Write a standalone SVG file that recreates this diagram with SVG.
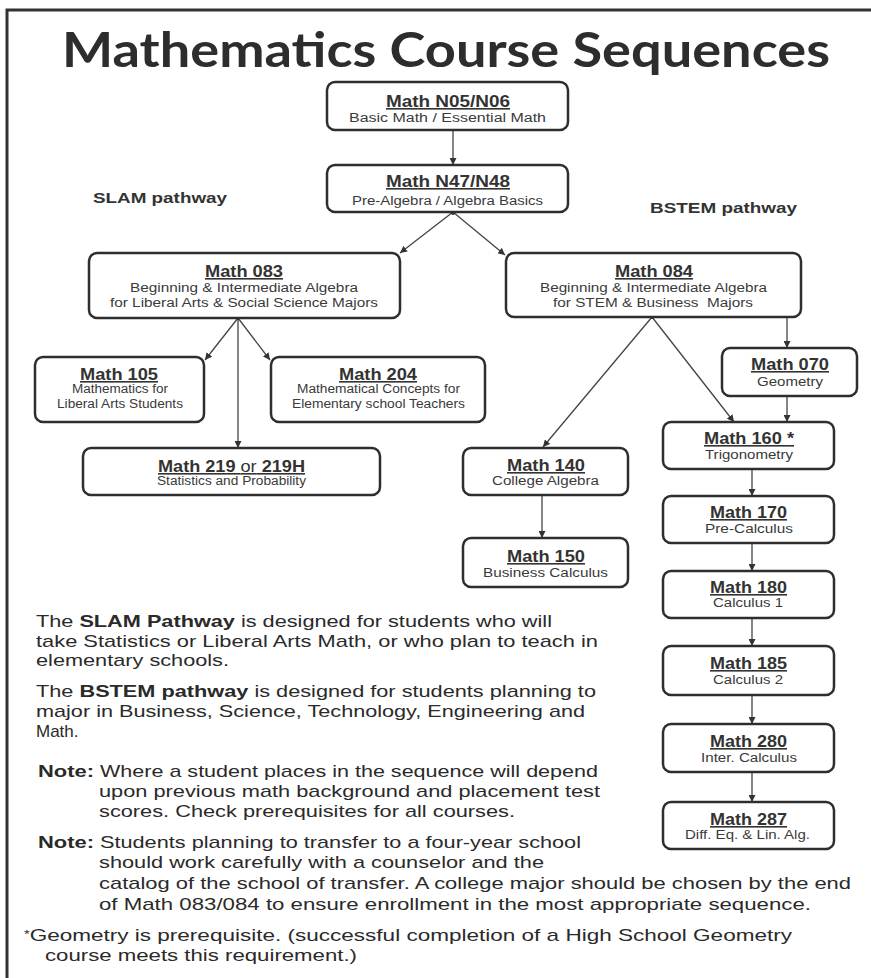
<svg xmlns="http://www.w3.org/2000/svg" width="871" height="978" viewBox="0 0 871 978">
<style>
.box{fill:#fff;stroke:#2e2e2e;stroke-width:2.5}
.t{font-family:"Liberation Sans",Arial,sans-serif;font-weight:700;font-size:16px;fill:#333;text-anchor:middle;text-decoration:underline}
.s{font-family:"Liberation Sans",Arial,sans-serif;font-size:12.5px;fill:#3a3a3a;text-anchor:middle}
.p{font-family:"Liberation Sans",Arial,sans-serif;font-size:17px;fill:#2a2a2a}
.lbl{font-family:"Liberation Sans",Arial,sans-serif;font-weight:700;font-size:15.5px;fill:#333}
.c{stroke:#444;stroke-width:1.3;fill:none}
</style>
<defs>
<marker id="ah" viewBox="0 0 10 10" refX="10" refY="5" markerWidth="7" markerHeight="7" markerUnits="userSpaceOnUse" orient="auto">
<path d="M0,0 L10,5 L0,10 z" fill="#333"/>
</marker>
</defs>
<rect width="871" height="978" fill="#fff"/>
<path d="M7,980 V10 H875" fill="none" stroke="#333" stroke-width="3"/>
<text x="62" y="67" font-family="Lato,'Open Sans',sans-serif" font-weight="700" font-size="47" fill="#2d2d2d" textLength="768" lengthAdjust="spacingAndGlyphs">Mathematics Course Sequences</text>
<text class="lbl" x="93" y="203" textLength="134" lengthAdjust="spacingAndGlyphs">SLAM pathway</text>
<text class="lbl" x="650" y="213" textLength="147" lengthAdjust="spacingAndGlyphs">BSTEM pathway</text>

<g id="connectors">
<line class="c" x1="453" y1="130" x2="453" y2="165" marker-end="url(#ah)"/>
<line class="c" x1="453" y1="212" x2="400" y2="253" marker-end="url(#ah)"/>
<line class="c" x1="453" y1="212" x2="505" y2="255" marker-end="url(#ah)"/>
<circle cx="453" cy="213" r="2" fill="#333"/>
<line class="c" x1="238" y1="318" x2="205" y2="360" marker-end="url(#ah)"/>
<line class="c" x1="238" y1="318" x2="270" y2="360" marker-end="url(#ah)"/>
<line class="c" x1="238" y1="318" x2="238" y2="448" marker-end="url(#ah)"/>
<circle cx="238" cy="318" r="2" fill="#333"/>
<line class="c" x1="652" y1="317" x2="543" y2="447" marker-end="url(#ah)"/>
<line class="c" x1="652" y1="317" x2="734" y2="422" marker-end="url(#ah)"/>
<circle cx="652" cy="317" r="2" fill="#333"/>
<line class="c" x1="787" y1="317" x2="787" y2="348" marker-end="url(#ah)"/>
<line class="c" x1="787" y1="396" x2="787" y2="422" marker-end="url(#ah)"/>
<line class="c" x1="542" y1="495" x2="542" y2="538" marker-end="url(#ah)"/>
<line class="c" x1="752" y1="469" x2="752" y2="496" marker-end="url(#ah)"/>
<line class="c" x1="752" y1="543" x2="752" y2="571" marker-end="url(#ah)"/>
<line class="c" x1="752" y1="618" x2="752" y2="646" marker-end="url(#ah)"/>
<line class="c" x1="752" y1="695" x2="752" y2="724" marker-end="url(#ah)"/>
<line class="c" x1="752" y1="772" x2="752" y2="802" marker-end="url(#ah)"/>
</g>

<g id="n05">
<rect class="box" x="327" y="82" width="241" height="48" rx="8"/>
<text class="t" x="448" y="107" font-size="17" textLength="124" lengthAdjust="spacingAndGlyphs">Math N05/N06</text>
<text class="s" x="447.5" y="122" font-size="14" textLength="197" lengthAdjust="spacingAndGlyphs">Basic Math / Essential Math</text>
</g>
<g id="n47">
<rect class="box" x="327" y="165" width="241" height="47" rx="8"/>
<text class="t" x="448" y="187" font-size="17" textLength="124" lengthAdjust="spacingAndGlyphs">Math N47/N48</text>
<text class="s" x="447.5" y="205" font-size="13.5" textLength="191" lengthAdjust="spacingAndGlyphs">Pre-Algebra / Algebra Basics</text>
</g>
<g id="m083">
<rect class="box" x="89" y="253" width="311" height="65" rx="8"/>
<text class="t" x="244" y="277" textLength="78" lengthAdjust="spacingAndGlyphs">Math 083</text>
<text class="s" x="244" y="292" textLength="228" lengthAdjust="spacingAndGlyphs">Beginning &amp; Intermediate Algebra</text>
<text class="s" x="244" y="307" textLength="268" lengthAdjust="spacingAndGlyphs">for Liberal Arts &amp; Social Science Majors</text>
</g>
<g id="m084">
<rect class="box" x="506" y="253" width="295" height="64" rx="8"/>
<text class="t" x="654" y="277" textLength="78" lengthAdjust="spacingAndGlyphs">Math 084</text>
<text class="s" x="653.5" y="292" textLength="227" lengthAdjust="spacingAndGlyphs">Beginning &amp; Intermediate Algebra</text>
<text class="s" x="653" y="307" textLength="200" lengthAdjust="spacingAndGlyphs" xml:space="preserve">for STEM &amp; Business  Majors</text>
</g>
<g id="m105">
<rect class="box" x="35" y="357" width="169" height="65" rx="8"/>
<text class="t" x="119" y="380" font-size="17" textLength="78" lengthAdjust="spacingAndGlyphs">Math 105</text>
<text class="s" x="120" y="393" font-size="11" textLength="96" lengthAdjust="spacingAndGlyphs">Mathematics for</text>
<text class="s" x="120" y="408" font-size="11" textLength="126" lengthAdjust="spacingAndGlyphs">Liberal Arts Students</text>
</g>
<g id="m204">
<rect class="box" x="271" y="357" width="214" height="65" rx="8"/>
<text class="t" x="378" y="380" font-size="17" textLength="78" lengthAdjust="spacingAndGlyphs">Math 204</text>
<text class="s" x="378.5" y="393" font-size="11" textLength="163" lengthAdjust="spacingAndGlyphs">Mathematical Concepts for</text>
<text class="s" x="378.5" y="408" font-size="11" textLength="173" lengthAdjust="spacingAndGlyphs">Elementary school Teachers</text>
</g>
<g id="m219">
<rect class="box" x="83" y="448" width="297" height="47" rx="8"/>
<text class="t" x="231.5" y="472" textLength="147" lengthAdjust="spacingAndGlyphs">Math 219 <tspan font-weight="400">or</tspan> 219H</text>
<text class="s" x="231.5" y="485" font-size="11" textLength="149" lengthAdjust="spacingAndGlyphs">Statistics and Probability</text>
</g>
<g id="m070">
<rect class="box" x="722" y="348" width="135" height="48" rx="8"/>
<text class="t" x="790" y="370" textLength="78" lengthAdjust="spacingAndGlyphs">Math 070</text>
<text class="s" x="790" y="386" textLength="66" lengthAdjust="spacingAndGlyphs">Geometry</text>
</g>
<g id="m160">
<rect class="box" x="663" y="422" width="171" height="47" rx="8"/>
<text class="t" x="749" y="444" textLength="90" lengthAdjust="spacingAndGlyphs">Math 160 *</text>
<text class="s" x="749" y="459" textLength="88" lengthAdjust="spacingAndGlyphs">Trigonometry</text>
</g>
<g id="m140">
<rect class="box" x="463" y="448" width="165" height="47" rx="8"/>
<text class="t" x="546" y="471" textLength="78" lengthAdjust="spacingAndGlyphs">Math 140</text>
<text class="s" x="545.5" y="485" textLength="107" lengthAdjust="spacingAndGlyphs">College Algebra</text>
</g>
<g id="m150">
<rect class="box" x="463" y="538" width="165" height="49" rx="8"/>
<text class="t" x="546" y="562" textLength="78" lengthAdjust="spacingAndGlyphs">Math 150</text>
<text class="s" x="545.5" y="577" textLength="125" lengthAdjust="spacingAndGlyphs">Business Calculus</text>
</g>
<g id="m170">
<rect class="box" x="663" y="496" width="171" height="47" rx="8"/>
<text class="t" x="748.5" y="518" textLength="77" lengthAdjust="spacingAndGlyphs">Math 170</text>
<text class="s" x="749" y="533" textLength="88" lengthAdjust="spacingAndGlyphs">Pre-Calculus</text>
</g>
<g id="m180">
<rect class="box" x="663" y="571" width="171" height="47" rx="8"/>
<text class="t" x="748.5" y="593" textLength="77" lengthAdjust="spacingAndGlyphs">Math 180</text>
<text class="s" x="748" y="607" textLength="70" lengthAdjust="spacingAndGlyphs">Calculus 1</text>
</g>
<g id="m185">
<rect class="box" x="663" y="646" width="171" height="49" rx="8"/>
<text class="t" x="748.5" y="669" textLength="77" lengthAdjust="spacingAndGlyphs">Math 185</text>
<text class="s" x="748" y="684" textLength="70" lengthAdjust="spacingAndGlyphs">Calculus 2</text>
</g>
<g id="m280">
<rect class="box" x="663" y="724" width="171" height="48" rx="8"/>
<text class="t" x="748.5" y="747" textLength="77" lengthAdjust="spacingAndGlyphs">Math 280</text>
<text class="s" x="749" y="762" textLength="96" lengthAdjust="spacingAndGlyphs">Inter. Calculus</text>
</g>
<g id="m287">
<rect class="box" x="663" y="802" width="171" height="47" rx="8"/>
<text class="t" x="748.5" y="825" textLength="77" lengthAdjust="spacingAndGlyphs">Math 287</text>
<text class="s" x="747.5" y="839" textLength="125" lengthAdjust="spacingAndGlyphs">Diff. Eq. &amp; Lin. Alg.</text>
</g>

<g id="notes">
<text class="p" x="36" y="627" textLength="516" lengthAdjust="spacingAndGlyphs">The <tspan font-weight="700">SLAM Pathway</tspan> is designed for students who will</text>
<text class="p" x="36" y="647" textLength="562" lengthAdjust="spacingAndGlyphs">take Statistics or Liberal Arts Math, or who plan to teach in</text>
<text class="p" x="36" y="666" textLength="193" lengthAdjust="spacingAndGlyphs">elementary schools.</text>
<text class="p" x="36" y="697" textLength="560" lengthAdjust="spacingAndGlyphs">The <tspan font-weight="700">BSTEM pathway</tspan> is designed for students planning to</text>
<text class="p" x="36" y="717" textLength="549" lengthAdjust="spacingAndGlyphs">major in Business, Science, Technology, Engineering and</text>
<text class="p" x="36" y="737">Math.</text>
<text class="p" x="38" y="777" font-weight="700" textLength="56" lengthAdjust="spacingAndGlyphs">Note:</text>
<text class="p" x="100" y="777" textLength="498" lengthAdjust="spacingAndGlyphs">Where a student places in the sequence will depend</text>
<text class="p" x="99" y="797" textLength="501" lengthAdjust="spacingAndGlyphs">upon previous math background and placement test</text>
<text class="p" x="99" y="817" textLength="416" lengthAdjust="spacingAndGlyphs">scores. Check prerequisites for all courses.</text>
<text class="p" x="38" y="848" font-weight="700" textLength="56" lengthAdjust="spacingAndGlyphs">Note:</text>
<text class="p" x="100" y="848" textLength="481" lengthAdjust="spacingAndGlyphs">Students planning to transfer to a four-year school</text>
<text class="p" x="99" y="868" textLength="445" lengthAdjust="spacingAndGlyphs">should work carefully with a counselor and the</text>
<text class="p" x="99" y="889" textLength="752" lengthAdjust="spacingAndGlyphs">catalog of the school of transfer. A college major should be chosen by the end</text>
<text class="p" x="99" y="910" textLength="712" lengthAdjust="spacingAndGlyphs">of Math 083/084 to ensure enrollment in the most appropriate sequence.</text>
<text class="p" x="24" y="941" textLength="768" lengthAdjust="spacingAndGlyphs"><tspan font-size="11" dy="-3">*</tspan><tspan dy="3">Geometry is prerequisite. (successful completion of a High School Geometry</tspan></text>
<text class="p" x="45" y="961" textLength="312" lengthAdjust="spacingAndGlyphs">course meets this requirement.)</text>
</g>
</svg>
